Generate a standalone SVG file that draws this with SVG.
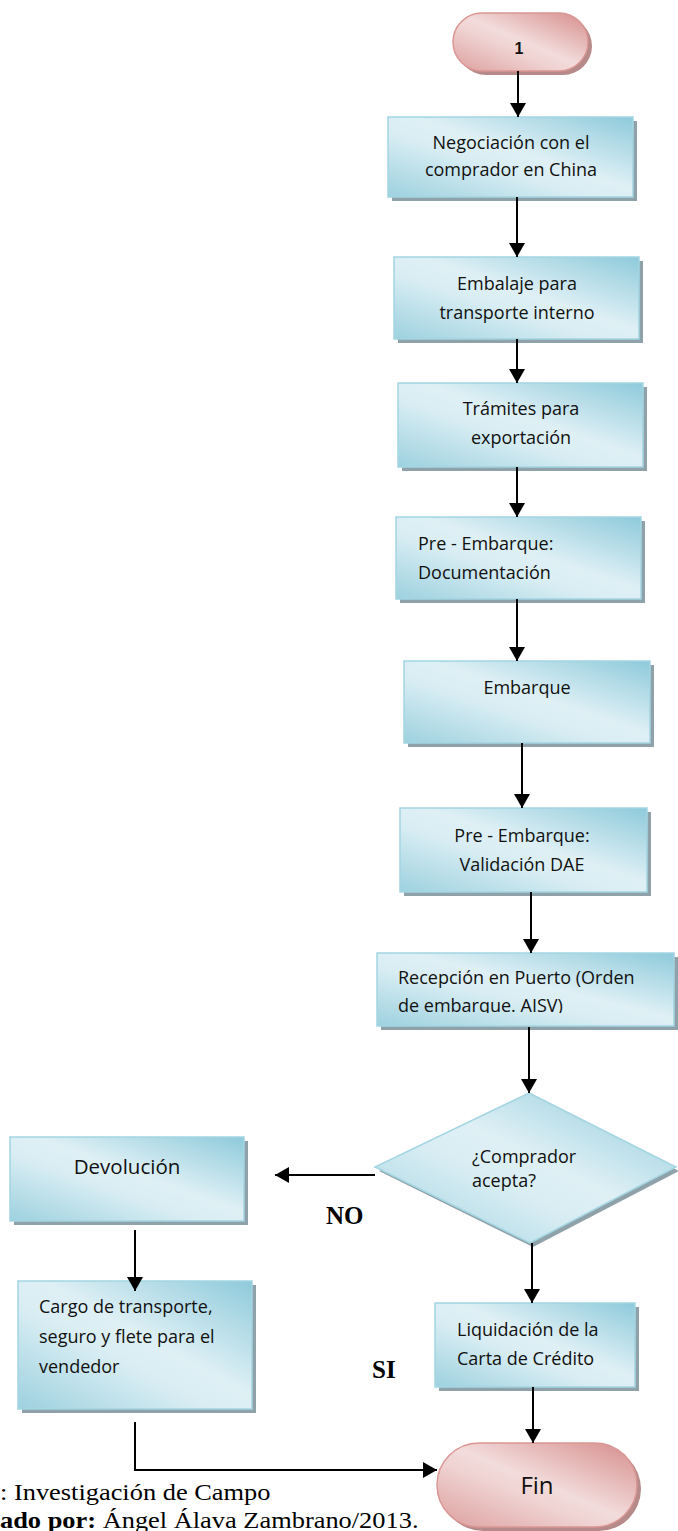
<svg xmlns="http://www.w3.org/2000/svg" width="678" height="1531" viewBox="0 0 678 1531">
<style>
.box{stroke:#a3d5e2;stroke-width:1.5;fill:url(#gBlue)}
.sh{fill:#8fa2a9}
.term{stroke:#d99694;stroke-width:1.5;fill:url(#gPink)}
.tsh{fill:#b58a89}
.t{font-family:"Open Sans","Liberation Sans",sans-serif;font-size:18px;fill:#111}
.c{text-anchor:middle}
.lbl{font-family:"Liberation Serif","Times New Roman",serif;font-size:25px;font-weight:bold;fill:#000}
.foot{font-family:"Liberation Serif","Times New Roman",serif;font-size:24px;fill:#000}
.ln{stroke:#000;stroke-width:2;fill:none;marker-end:url(#arr)}
</style>
<defs>
<linearGradient id="gBlue" x1="1" y1="0" x2="0" y2="1">
<stop offset="0" stop-color="#8ecadb"/>
<stop offset="0.45" stop-color="#dff0f5"/>
<stop offset="0.6" stop-color="#d8edf3"/>
<stop offset="1" stop-color="#9dd1df"/>
</linearGradient>
<linearGradient id="gPink" x1="1" y1="0" x2="0" y2="1">
<stop offset="0" stop-color="#d58c8b"/>
<stop offset="0.48" stop-color="#f2dcdb"/>
<stop offset="0.6" stop-color="#efd3d2"/>
<stop offset="1" stop-color="#dc9f9e"/>
</linearGradient>
<marker id="arr" markerUnits="userSpaceOnUse" markerWidth="16" markerHeight="16" refX="14" refY="8" orient="auto">
<path d="M0,0 L14,8 L0,16 z" fill="#000"/>
</marker>
<clipPath id="clip7"><rect x="377" y="953" width="297" height="60"/></clipPath>
</defs>

<g id="start">
<rect class="tsh" x="457" y="17" width="135" height="58" rx="29"/>
<rect class="term" x="453" y="13" width="135" height="58" rx="29"/>
<text x="519" y="54" text-anchor="middle" style="font-family:'Liberation Sans',Arial,sans-serif;font-size:16px;font-weight:bold;fill:#111">1</text>
</g>

<g id="n1">
<rect class="sh" x="392" y="121" width="245" height="80"/>
<rect class="box" x="388" y="117" width="245" height="80"/>
<text class="t c" x="511" y="149">Negociación con el</text>
<text class="t c" x="511" y="176">comprador en China</text>
</g>

<g id="n2">
<rect class="sh" x="398" y="261" width="245" height="82"/>
<rect class="box" x="394" y="257" width="245" height="82"/>
<text class="t c" x="517" y="290">Embalaje para</text>
<text class="t c" x="517" y="319">transporte interno</text>
</g>

<g id="n3">
<rect class="sh" x="402" y="387" width="245" height="84"/>
<rect class="box" x="398" y="383" width="245" height="84"/>
<text class="t c" x="521" y="415">Trámites para</text>
<text class="t c" x="521" y="444">exportación</text>
</g>

<g id="n4">
<rect class="sh" x="400" y="521" width="245" height="82"/>
<rect class="box" x="396" y="517" width="245" height="82"/>
<text class="t" x="418" y="550">Pre - Embarque:</text>
<text class="t" x="418" y="579">Documentación</text>
</g>

<g id="n5">
<rect class="sh" x="408" y="665" width="246" height="82"/>
<rect class="box" x="404" y="661" width="246" height="82"/>
<text class="t c" x="527" y="694">Embarque</text>
</g>

<g id="n6">
<rect class="sh" x="404" y="812" width="247" height="84"/>
<rect class="box" x="400" y="808" width="247" height="84"/>
<text class="t c" x="522" y="842">Pre - Embarque:</text>
<text class="t c" x="522" y="871">Validación DAE</text>
</g>

<g id="n7">
<rect class="sh" x="381" y="957" width="297" height="73"/>
<rect class="box" x="377" y="953" width="297" height="73"/>
<g clip-path="url(#clip7)">
<text class="t" x="398" y="984">Recepción en Puerto (Orden</text>
<text class="t" x="398" y="1012">de embarque. AISV)</text>
</g>
</g>

<g id="decision">
<polygon class="sh" points="532,1097 679,1171 533,1247 379,1171"/>
<polygon class="box" points="529,1093 676,1167 530,1243 375,1167"/>
<text class="t" x="472" y="1163">¿Comprador</text>
<text class="t" x="472" y="1187">acepta?</text>
</g>

<g id="devolucion">
<rect class="sh" x="14" y="1141" width="234" height="84"/>
<rect class="box" x="10" y="1137" width="234" height="84"/>
<text class="t c" x="127" y="1174" style="font-size:20.5px">Devolución</text>
</g>

<g id="cargo">
<rect class="sh" x="22" y="1285" width="234" height="128"/>
<rect class="box" x="18" y="1281" width="234" height="128"/>
<text class="t" x="39" y="1313">Cargo de transporte,</text>
<text class="t" x="39" y="1343">seguro y flete para el</text>
<text class="t" x="39" y="1373">vendedor</text>
</g>

<g id="liquidacion">
<rect class="sh" x="439" y="1307" width="200" height="84"/>
<rect class="box" x="435" y="1303" width="200" height="84"/>
<text class="t" x="457" y="1336">Liquidación de la</text>
<text class="t" x="457" y="1365">Carta de Crédito</text>
</g>

<g id="fin">
<rect class="tsh" x="441" y="1447" width="200" height="84" rx="42"/>
<rect class="term" x="437" y="1443" width="200" height="84" rx="42"/>
<text x="537" y="1494" text-anchor="middle" style="font-family:'Open Sans','Liberation Sans',sans-serif;font-size:24px;fill:#111">Fin</text>
</g>

<g id="connectors">
<line class="ln" x1="518" y1="71" x2="518" y2="117"/>
<line class="ln" x1="517" y1="197" x2="517" y2="257"/>
<line class="ln" x1="517" y1="339" x2="517" y2="383"/>
<line class="ln" x1="517" y1="467" x2="517" y2="517"/>
<line class="ln" x1="517" y1="599" x2="517" y2="661"/>
<line class="ln" x1="522" y1="743" x2="522" y2="808"/>
<line class="ln" x1="531" y1="892" x2="531" y2="953"/>
<line class="ln" x1="529" y1="1027" x2="529" y2="1093"/>
<line class="ln" x1="532" y1="1243" x2="532" y2="1303"/>
<line class="ln" x1="533" y1="1387" x2="533" y2="1443"/>
<line class="ln" x1="375" y1="1175" x2="275" y2="1175"/>
<line class="ln" x1="135" y1="1230" x2="135" y2="1291"/>
<polyline class="ln" points="135,1422 135,1470 437,1470"/>
</g>

<g id="labels">
<text class="lbl" x="326" y="1224">NO</text>
<text class="lbl" x="372" y="1378">SI</text>
</g>

<g id="footer" transform="scale(1.1 1)">
<text class="foot" x="0" y="1500">: Investigación de Campo</text>
<text class="foot" x="0" y="1528"><tspan font-weight="bold">ado por:</tspan> Ángel Álava Zambrano/2013.</text>
</g>
</svg>
